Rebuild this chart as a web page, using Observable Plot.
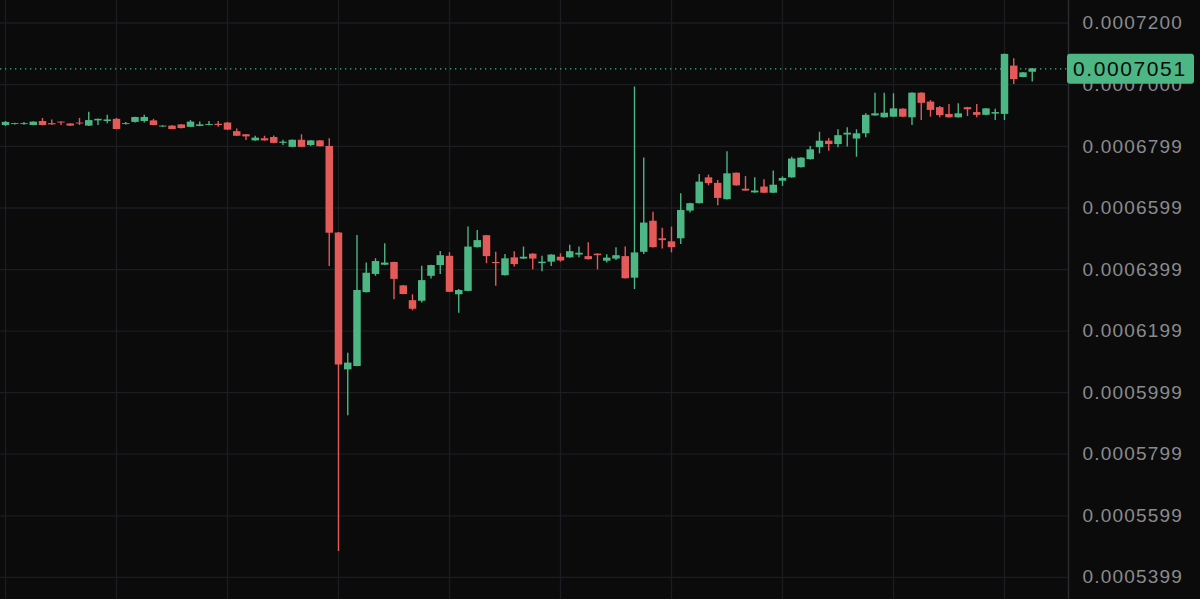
<!DOCTYPE html>
<html><head><meta charset="utf-8">
<script src="https://cdn.jsdelivr.net/npm/d3@7"></script>
<script src="https://cdn.jsdelivr.net/npm/@observablehq/plot@0.6"></script>
<style>html,body{margin:0;padding:0;background:#0b0b0c;overflow:hidden}</style>
</head><body><div id="chart"></div>
<script>
// 5-minute candles, prices in quote currency
const open = [6867e-7,6870e-7,6870e-7,6867e-7,6880e-7,6873e-7,6878e-7,6872e-7,6875e-7,6865e-7,
6882e-7,6880e-7,6887e-7,6870e-7,6877e-7,6880e-7,6882e-7,6862e-7,6865e-7,6869e-7,
6861e-7,6864e-7,6867e-7,6871e-7,6875e-7,6847e-7,6837e-7,6817e-7,6824e-7,6828e-7,
6809e-7,6796e-7,6819e-7,6802e-7,6817e-7,6799e-7,6518e-7,6073e-7,6084e-7,6324e-7,
6383e-7,6413e-7,6422e-7,6346e-7,6298e-7,6296e-7,6377e-7,6412e-7,6442e-7,6317e-7,
6328e-7,6470e-7,6509e-7,6422e-7,6379e-7,6437e-7,6433e-7,6449e-7,6418e-7,6423e-7,
6439e-7,6437e-7,6446e-7,6441e-7,6449e-7,6426e-7,6433e-7,6441e-7,6371e-7,6455e-7,
6556e-7,6499e-7,6489e-7,6499e-7,6589e-7,6613e-7,6697e-7,6679e-7,6626e-7,6712e-7,
6660e-7,6648e-7,6667e-7,6647e-7,6686e-7,6697e-7,6730e-7,6756e-7,6795e-7,6816e-7,
6805e-7,6836e-7,6823e-7,6840e-7,6898e-7,6892e-7,6894e-7,6920e-7,6892e-7,6972e-7,
6943e-7,6925e-7,6903e-7,6892e-7,6925e-7,6909e-7,6900e-7,6904e-7,6903e-7,7060e-7,
7023e-7,7040e-7];
const high = [6880e-7,6874e-7,6877e-7,6879e-7,6890e-7,6885e-7,6879e-7,6873e-7,6890e-7,6910e-7,
6888e-7,6900e-7,6890e-7,6877e-7,6894e-7,6900e-7,6887e-7,6866e-7,6867e-7,6870e-7,
6883e-7,6878e-7,6880e-7,6880e-7,6877e-7,6856e-7,6838e-7,6832e-7,6832e-7,6833e-7,
6819e-7,6820e-7,6837e-7,6818e-7,6818e-7,6824e-7,6519e-7,6127e-7,6510e-7,6420e-7,
6434e-7,6483e-7,6423e-7,6347e-7,6317e-7,6410e-7,6413e-7,6458e-7,6454e-7,6334e-7,
6537e-7,6526e-7,6510e-7,6455e-7,6448e-7,6457e-7,6472e-7,6450e-7,6442e-7,6447e-7,
6450e-7,6478e-7,6472e-7,6486e-7,6450e-7,6447e-7,6470e-7,6472e-7,6992e-7,6761e-7,
6585e-7,6533e-7,6537e-7,6645e-7,6614e-7,6708e-7,6706e-7,6688e-7,6782e-7,6713e-7,
6701e-7,6697e-7,6691e-7,6719e-7,6700e-7,6764e-7,6762e-7,6799e-7,6845e-7,6825e-7,
6853e-7,6860e-7,6853e-7,6905e-7,6972e-7,6972e-7,6970e-7,6921e-7,6973e-7,6973e-7,
6948e-7,6929e-7,6935e-7,6938e-7,6926e-7,6935e-7,6922e-7,6920e-7,7099e-7,7084e-7,
7039e-7,7052e-7];
const low = [6864e-7,6869e-7,6868e-7,6866e-7,6866e-7,6868e-7,6867e-7,6864e-7,6867e-7,6864e-7,
6867e-7,6873e-7,6853e-7,6869e-7,6875e-7,6875e-7,6866e-7,6861e-7,6853e-7,6856e-7,
6860e-7,6863e-7,6866e-7,6861e-7,6851e-7,6831e-7,6818e-7,6816e-7,6816e-7,6808e-7,
6802e-7,6795e-7,6795e-7,6799e-7,6797e-7,6409e-7,5483e-7,5924e-7,6083e-7,6323e-7,
6377e-7,6412e-7,6301e-7,6317e-7,6265e-7,6290e-7,6368e-7,6383e-7,6324e-7,6257e-7,
6327e-7,6469e-7,6418e-7,6345e-7,6378e-7,6407e-7,6432e-7,6398e-7,6392e-7,6409e-7,
6423e-7,6436e-7,6437e-7,6430e-7,6398e-7,6420e-7,6428e-7,6368e-7,6334e-7,6448e-7,
6469e-7,6466e-7,6453e-7,6480e-7,6583e-7,6612e-7,6671e-7,6606e-7,6625e-7,6670e-7,
6653e-7,6647e-7,6646e-7,6646e-7,6669e-7,6696e-7,6729e-7,6755e-7,6775e-7,6783e-7,
6795e-7,6797e-7,6764e-7,6827e-7,6897e-7,6891e-7,6893e-7,6893e-7,6867e-7,6883e-7,
6894e-7,6892e-7,6891e-7,6891e-7,6896e-7,6892e-7,6899e-7,6883e-7,6883e-7,7000e-7,
7022e-7,7008e-7];
const close = [6877e-7,6873e-7,6873e-7,6878e-7,6867e-7,6869e-7,6875e-7,6865e-7,6872e-7,6883e-7,
6887e-7,6885e-7,6854e-7,6873e-7,6893e-7,6893e-7,6867e-7,6865e-7,6854e-7,6857e-7,
6878e-7,6869e-7,6870e-7,6867e-7,6852e-7,6832e-7,6830e-7,6826e-7,6817e-7,6809e-7,
6813e-7,6819e-7,6796e-7,6817e-7,6798e-7,6517e-7,6089e-7,6095e-7,6331e-7,6387e-7,
6425e-7,6420e-7,6367e-7,6318e-7,6270e-7,6363e-7,6412e-7,6444e-7,6325e-7,6331e-7,
6472e-7,6493e-7,6441e-7,6418e-7,6434e-7,6415e-7,6439e-7,6433e-7,6423e-7,6446e-7,
6427e-7,6457e-7,6452e-7,6431e-7,6444e-7,6436e-7,6444e-7,6369e-7,6453e-7,6550e-7,
6470e-7,6493e-7,6470e-7,6591e-7,6613e-7,6683e-7,6678e-7,6630e-7,6710e-7,6671e-7,
6654e-7,6654e-7,6647e-7,6673e-7,6695e-7,6758e-7,6761e-7,6788e-7,6816e-7,6805e-7,
6834e-7,6842e-7,6840e-7,6900e-7,6905e-7,6907e-7,6921e-7,6894e-7,6972e-7,6939e-7,
6916e-7,6899e-7,6892e-7,6905e-7,6918e-7,6900e-7,6921e-7,6909e-7,7098e-7,7016e-7,
7038e-7,7051e-7];
const lastPrice = 7051e-7;
const tickLabels = ["0.0007200","0.0007000","0.0006799","0.0006599","0.0006399","0.0006199","0.0005999","0.0005799","0.0005599","0.0005399"];
const hourCandles = [0,12,24,36,48,60,72,84,96,108];

const tickValues = tickLabels.map(Number);
const GREEN = "#4cb684", RED = "#e35a59";
const data = open.map((o, i) => ({i, open: o, high: high[i], low: low[i], close: close[i],
  col: close[i] >= o ? GREEN : RED}));

const W = 1200, H = 599, MR = 132;
const FONT = "'Liberation Sans', Arial, sans-serif";
const chart = Plot.plot({
  width: W, height: H,
  marginTop: 0, marginBottom: 0, marginLeft: 0, marginRight: MR,
  style: {background: "#0b0b0c", color: "#8a8b8e", fontFamily: FONT, fontSize: "19px", letterSpacing: "1.2px"},
  x: {domain: [-0.54, 114.92], axis: null},
  y: {domain: [5327e-7, 7273.1e-7], axis: null},
  marks: [
    Plot.gridX(hourCandles, {stroke: "#1c1d21", strokeOpacity: 1, strokeWidth: 1.3}),
    Plot.gridY(tickValues, {stroke: "#1c1d21", strokeOpacity: 1, strokeWidth: 1.3}),
    Plot.ruleY([lastPrice], {stroke: GREEN, strokeDasharray: "1.3,3.7", strokeWidth: 1.3}),
    Plot.ruleX(data, {x: "i", y1: "low", y2: "high", stroke: "col", strokeWidth: 1.4}),
    Plot.ruleX(data, {x: "i", y1: "open", y2: "close", stroke: "col", strokeWidth: 7.5}),
    Plot.frame({anchor: "right", stroke: "#2a2b2f", strokeWidth: 1.5}),
    Plot.axisY({anchor: "right", ticks: tickValues,
      tickFormat: d => tickLabels[tickValues.indexOf(d)],
      tickSize: 0, tickPadding: 14, fill: "#8a8b8e", fontSize: 19})
  ]
});
document.getElementById("chart").appendChild(chart);

// current price tag
const yScale = chart.scale("y");
const yp = yScale.apply(lastPrice);
const svg = d3.select(chart);
const g = svg.append("g");
g.append("rect").attr("x", W - MR - 1).attr("y", yp - 14.5).attr("width", 127).attr("height", 30)
  .attr("rx", 3).attr("fill", GREEN);
g.append("text").attr("x", W - MR + 5).attr("y", yp + 0.5).attr("dy", "0.36em")
  .attr("text-anchor", "start")
  .attr("fill", "#0a0a0a").style("font-size", "21px")
  .style("font-family", FONT).style("letter-spacing", "1.6px")
  .text(lastPrice.toFixed(7));
</script>
</body></html>
